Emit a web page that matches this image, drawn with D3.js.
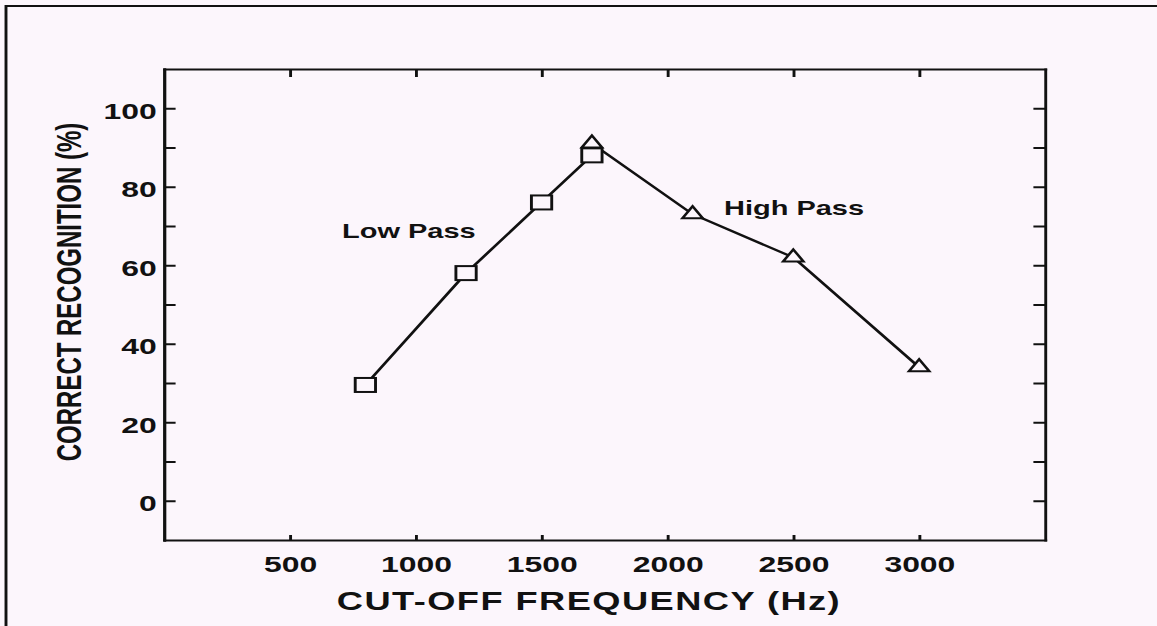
<!DOCTYPE html>
<html>
<head>
<meta charset="utf-8">
<script src="https://cdn.jsdelivr.net/npm/d3@7"></script>
<style>
    html, body { margin: 0; padding: 0; background: #fcf6fc; }
    svg { display: block; }
    text { font-family: "Liberation Sans", Arial, sans-serif; fill: #111; }
    .axis path, .axis line { stroke: #111; stroke-width: 2; }
    .axis text { font-size: 22px; font-weight: bold; }
</style>
</head>
<body>
<svg id="chart"></svg>
<script>
const lowPassFreq = [800, 1200, 1500, 1700];
const lowPassScore = [29.5, 58, 76, 88];
const highPassFreq = [1700, 2100, 2500, 3000];
const highPassScore = [91, 73, 62, 34];

const xTicks = [500, 1000, 1500, 2000, 2500, 3000];
const yTicks = [0, 20, 40, 60, 80, 100];
const yMinorTicks = [10, 30, 50, 70, 90];
const rightTicks = [0, 10, 20, 30, 40, 50, 60, 70, 80, 90, 100];

const fullWidth = 1157;
const fullHeight = 626;
// the scanned figure is stretched sideways, so the whole drawing is too
const stretch = 1.45;
const viewWidth = fullWidth / stretch;

const plot = {left: 164 / stretch, right: 1045 / stretch, top: 69, bottom: 540};
const background = '#fcf6fc';
const ink = '#111';

const svg = d3.select('#chart')
    .attr('width', fullWidth)
    .attr('height', fullHeight)
    .attr('viewBox', `0 0 ${viewWidth} ${fullHeight}`)
    .attr('preserveAspectRatio', 'none');

svg.append('rect')
    .attr('width', viewWidth)
    .attr('height', fullHeight)
    .attr('fill', background);

svg.append('path')
    .attr('d', `M${6 / stretch},${fullHeight} V6 H${viewWidth}`)
    .attr('fill', 'none')
    .attr('stroke', ink)
    .attr('stroke-width', 2);

const xScale = d3.scaleLinear()
    .domain([0, 3500])
    .range([plot.left, plot.right]);

const yScale = d3.scaleLinear()
    .domain([-10, 110])
    .range([plot.bottom, plot.top]);

const xAxis = d3.axisBottom(xScale)
    .tickValues(xTicks)
    .tickSizeInner(-5)
    .tickSizeOuter(0)
    .tickPadding(16)
    .tickFormat(d3.format('d'));

const xAxisTop = d3.axisTop(xScale)
    .tickValues(xTicks)
    .tickSizeInner(-8)
    .tickSizeOuter(0)
    .tickFormat('');

const yAxis = d3.axisLeft(yScale)
    .tickValues(yTicks)
    .tickSizeInner(-8)
    .tickSizeOuter(0)
    .tickPadding(5)
    .tickFormat(d3.format('d'));

const yAxisMinor = d3.axisLeft(yScale)
    .tickValues(yMinorTicks)
    .tickSizeInner(-8)
    .tickSizeOuter(0)
    .tickFormat('');

const yAxisRight = d3.axisRight(yScale)
    .tickValues(rightTicks)
    .tickSizeInner(-8)
    .tickSizeOuter(0)
    .tickFormat('');

svg.append('g')
    .attr('class', 'axis axis--x')
    .attr('transform', `translate(0, ${plot.bottom})`)
    .call(xAxis);

svg.append('g')
    .attr('class', 'axis axis--top')
    .attr('transform', `translate(0, ${plot.top})`)
    .call(xAxisTop);

const gYAxis = svg.append('g')
    .attr('class', 'axis axis--y')
    .attr('transform', `translate(${plot.left}, 0)`)
    .call(yAxis);

svg.append('g')
    .attr('class', 'axis axis--y-minor')
    .attr('transform', `translate(${plot.left}, 0)`)
    .call(yAxisMinor);

svg.append('g')
    .attr('class', 'axis axis--right')
    .attr('transform', `translate(${plot.right}, 0)`)
    .call(yAxisRight);

gYAxis.selectAll('text').attr('dy', '0.45em');

svg.selectAll('.axis .domain').attr('stroke-linecap', 'square');

const series = [
    {name: 'low', values: lowPassFreq.map((f, i) => ({freq: f, score: lowPassScore[i]}))},
    {name: 'high', values: highPassFreq.map((f, i) => ({freq: f, score: highPassScore[i]}))},
];

const line = d3.line()
    .x(d => xScale(d.freq))
    .y(d => yScale(d.score));

svg.selectAll('.series-line')
    .data(series)
    .enter().append('path')
    .attr('class', 'series-line')
    .attr('d', d => line(d.values))
    .attr('fill', 'none')
    .attr('stroke', ink)
    .attr('stroke-width', 2.2);

svg.append('g').selectAll('path')
    .data(series[1].values)
    .enter().append('path')
    .attr('d', 'M0,-8 L7,4 L-7,4 Z')
    .attr('transform', d => `translate(${xScale(d.freq)}, ${yScale(d.score)})`)
    .attr('fill', background)
    .attr('stroke', ink)
    .attr('stroke-width', 2);

svg.append('g').selectAll('rect')
    .data(series[0].values)
    .enter().append('rect')
    .attr('x', d => xScale(d.freq) - 7)
    .attr('y', d => yScale(d.score) - 7)
    .attr('width', 14)
    .attr('height', 14)
    .attr('fill', background)
    .attr('stroke', ink)
    .attr('stroke-width', 2);

svg.append('text')
    .attr('x', 342 / stretch)
    .attr('y', 238)
    .attr('font-size', 20)
    .attr('font-weight', 'bold')
    .text('Low Pass');

svg.append('text')
    .attr('x', 724 / stretch)
    .attr('y', 215)
    .attr('font-size', 20)
    .attr('font-weight', 'bold')
    .text('High Pass');

svg.append('text')
    .attr('x', 589 / stretch)
    .attr('y', 610)
    .attr('text-anchor', 'middle')
    .attr('font-size', 25)
    .attr('font-weight', 'bold')
    .attr('letter-spacing', 1)
    .text('CUT-OFF FREQUENCY (Hz)');

svg.append('text')
    .attr('transform', `translate(${81 / stretch}, 292) rotate(-90)`)
    .attr('text-anchor', 'middle')
    .attr('font-size', 24)
    .attr('font-weight', 'bold')
    .text('CORRECT RECOGNITION (%)');
</script>
</body>
</html>
